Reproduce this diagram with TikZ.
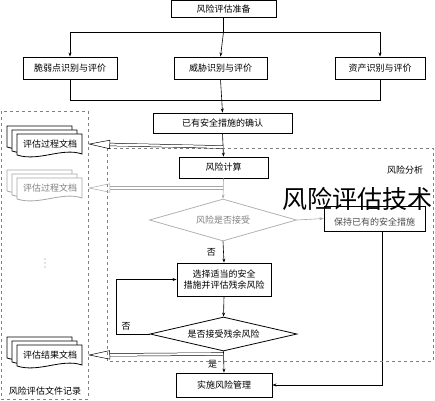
\documentclass[tikz,border=0pt]{standalone}
\usepackage{fontspec}
\setmainfont{Noto Sans CJK SC}
\usetikzlibrary{arrows.meta,shapes.geometric}

% stack of three documents, front top-left corner at (#1,#2), colour #3
\newcommand{\docstack}[3]{%
  \foreach \d [evaluate=\d as \dx using #1-5*\d,
               evaluate=\d as \dy using #2-4*\d] in {2,1,0}{
    \draw[#3, fill=white, line width=0.8pt] (\dx,\dy) -- (\dx+65,\dy) -- (\dx+65,\dy+20)
      .. controls (\dx+45,\dy+13) and (\dx+22,\dy+28) .. (\dx,\dy+21) -- cycle;
  }}

\begin{document}
\begin{tikzpicture}[x=1pt, y=-1pt,
    font=\fontsize{9}{11}\selectfont,
    box/.style={draw, line width=0.9pt, inner sep=2pt},
    choice/.style={draw, diamond, aspect=3.5, inner sep=0pt, line width=0.8pt},
    arr/.style={-{Stealth[length=4pt, width=3pt]}, line width=0.6pt},
    hollow/.style={double, double distance=2.2pt, line width=0.5pt,
      -{Triangle[open, length=22pt, width=9pt]}},
    region/.style={dashed, gray, line width=0.7pt}]
  \useasboundingbox (0,0) rectangle (435,400);

  % main flow
  \node[box, minimum width=105pt, minimum height=17pt] (prep) at (223.5,9) {风险评估准备};
  \node[box, minimum width=94pt, minimum height=22pt] (vuln) at (70,68) {脆弱点识别与评价};
  \node[box, minimum width=93pt, minimum height=22pt] (threat) at (220.5,68) {威胁识别与评价};
  \node[box, minimum width=90pt, minimum height=22pt] (asset) at (380,68) {资产识别与评价};
  \node[box, minimum width=139pt, minimum height=20pt] (confirm) at (222.5,123) {已有安全措施的确认};
  \node[box, minimum width=89pt, minimum height=21pt] (calc) at (223.5,167.5) {风险计算};
  \node[choice, gray!60, text=gray, minimum width=147pt, minimum height=42pt] (accept) at (223,220) {风险是否接受};
  \node[box, text=black!70, text height=13pt, text depth=0pt, minimum width=101pt, minimum height=25pt] (keep) at (374.5,218.5) {保持已有的安全措施};
  \node[box, align=center, minimum width=94pt, minimum height=33pt] (select) at (224,279.5) {选择适当的安全\\措施并评估残余风险};
  \node[choice, minimum width=147pt, minimum height=34pt] (residual) at (223.5,334) {是否接受残余风险};
  \node[box, minimum width=96pt, minimum height=24pt] (manage) at (224,385) {实施风险管理};

  % connectors
  \coordinate (split) at (223.5,32);
  \coordinate (join) at (223,100);
  \draw[line width=0.6pt] (prep.south) -- (split);
  \draw[line width=0.6pt] (vuln.north |- split) -- (asset.north |- split);
  \draw[arr] (vuln.north |- split) -- (vuln.north);
  \draw[arr] (split) -- (threat.north);
  \draw[arr] (asset.north |- split) -- (asset.north);
  \draw[line width=0.6pt] (vuln.south) |- (join);
  \draw[line width=0.6pt] (asset.south) |- (join);
  \draw[arr] (threat.south) -- (confirm.north);
  \draw[arr] (confirm.south) -- (calc.north);
  \draw[arr, gray!70] (calc.south) -- (accept.north);
  \draw[arr, gray!70] (accept.east) -- (keep.west);
  \draw[arr] (accept.south) -- (select.north) node[pos=0.5, left=4pt] {否};
  \draw[arr] (select.south) -- (residual.north);
  \draw[arr] (residual.west) -- (116,334) node[pos=0.7, above=0pt] {否} |- (select.west);
  \draw[arr] (residual.south) -- (manage.north) node[pos=0.6, left=3pt] {是};
  \draw[arr] ([xshift=7.5pt]keep.south) |- (manage.east);

  % regions
  \draw[region] (107,148) rectangle (433,361);
  \draw[region] (1,111) rectangle (88,399);
  \node (analysis) at (405,170) {风险分析};
  \node (records) at (45,391) {风险评估文件记录};

  % documents
  \docstack{17}{134}{black}
  \node (doca) at (50,144) {评估过程文档};
  \docstack{17}{178}{gray!70}
  \node[text=gray] (docb) at (50,188) {评估过程文档};
  \foreach \y in {259,263,267}
    \fill[gray] (45,\y) circle (0.7pt);
  \docstack{17}{345}{black}
  \node (docc) at (50,355) {评估结果文档};

  % hollow arrows into the records
  \coordinate (outa) at (223,147);
  \coordinate (outb) at (223,188);
  \coordinate (outc) at (223,354);
  \draw[hollow] (outa) -- (doca.east -| 88,0);
  \draw[hollow, gray!70] (outb) -- (docb.east -| 88,0);
  \draw[hollow] (outc) -- (docc.east -| 88,0);

  % watermark
  \node[font=\fontsize{25}{27}\selectfont] (mark) at (357,199) {风险评估技术};
\end{tikzpicture}
\end{document}
